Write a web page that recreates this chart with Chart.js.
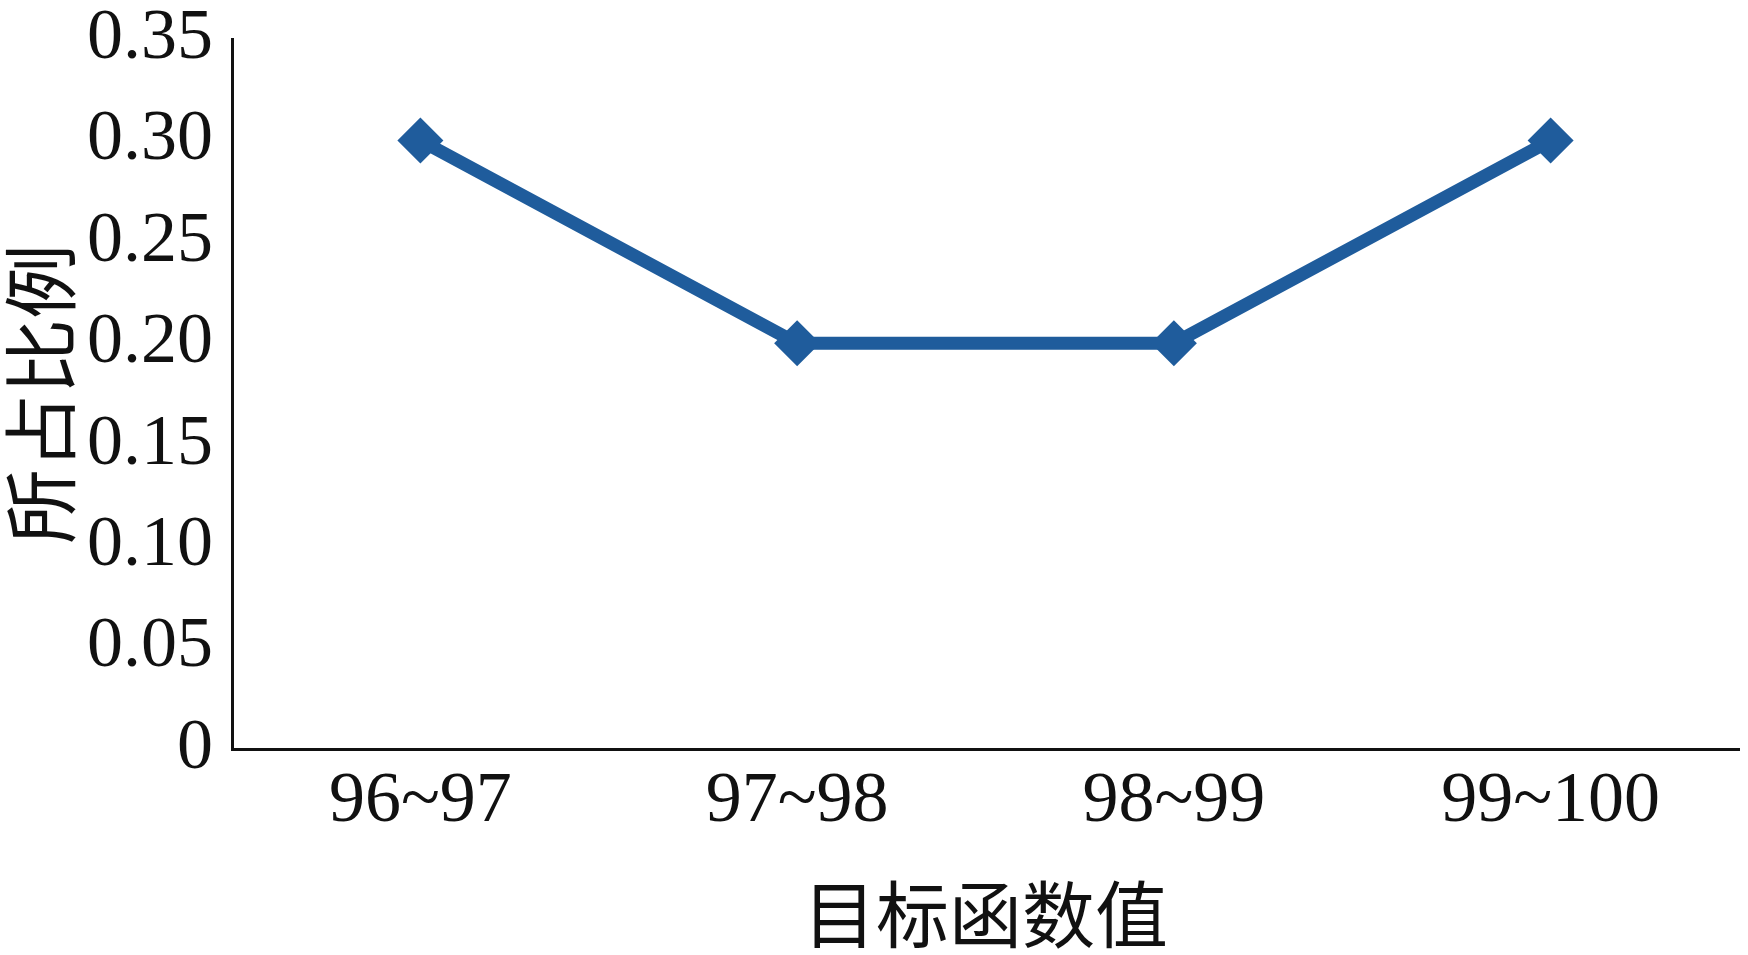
<!DOCTYPE html>
<html>
<head>
<meta charset="utf-8">
<style>
  html, body { margin: 0; padding: 0; background: #ffffff; }
  #wrap { width: 1748px; height: 955px; position: relative; }
</style>
<script src="https://cdn.jsdelivr.net/npm/chart.js@4/dist/chart.umd.min.js"></script>
</head>
<body>
<div id="wrap"><canvas id="lineChart"></canvas></div>
<script>
const categories = ['96~97', '97~98', '98~99', '99~100'];
const shares = [0.30, 0.20, 0.20, 0.30];
const yTicks = [0, 0.05, 0.10, 0.15, 0.20, 0.25, 0.30, 0.35];

const serif = '"Liberation Serif", "Times New Roman", "Noto Sans CJK SC", serif';

const ctx = document.getElementById('lineChart').getContext('2d');
const chart = new Chart(ctx, {
  type: 'line',
  data: {
    labels: categories,
    datasets: [{
      label: '所占比例',
      data: shares,
      borderColor: '#1f5c9c',
      backgroundColor: '#1f5c9c',
      borderWidth: 13,
      tension: 0,
      pointStyle: 'rectRot',
      pointRadius: 23,
      pointBorderWidth: 0,
      pointBackgroundColor: '#1f5c9c'
    }]
  },
  options: {
    responsive: true,
    maintainAspectRatio: false,
    animation: false,
    layout: { autoPadding: false, padding: { top: 39, right: 9, left: 0, bottom: 0 } },
    plugins: {
      legend: { display: false },
      tooltip: { enabled: false }
    },
    scales: {
      x: {
        offset: true,
        grid: { display: false, drawTicks: false },
        border: { display: true, color: '#111111', width: 3 },
        ticks: {
          color: '#111111',
          padding: 10,
          font: { family: serif, size: 72 }
        },
        title: {
          display: true,
          text: '目标函数值',
          color: '#111111',
          padding: { top: 4, bottom: 4 },
          font: { family: '"Noto Sans CJK SC", serif', size: 73, lineHeight: 1 }
        },
        afterFit: function(scale) {
          scale.height = 206;
          scale.paddingLeft = 0;
          scale.paddingRight = 0;
        }
      },
      y: {
        min: 0,
        max: 0.35,
        afterBuildTicks: function(scale) {
          scale.ticks = yTicks.map(v => ({ value: v }));
        },
        grid: { display: false, drawTicks: false },
        border: { display: true, color: '#111111', width: 3 },
        ticks: {
          color: '#111111',
          padding: 19,
          font: { family: serif, size: 72, lineHeight: 1 },
          callback: function(value) {
            return value === 0 ? '0' : value.toFixed(2);
          }
        },
        title: {
          display: true,
          text: '所占比例',
          color: '#111111',
          padding: { top: 3, bottom: 0 },
          font: { family: '"Noto Sans CJK SC", serif', size: 75, lineHeight: 1 }
        },
        afterFit: function(scale) {
          scale.width = 232;
          scale.paddingTop = 0;
          scale.paddingBottom = 0;
        }
      }
    }
  }
});
</script>
</body>
</html>
